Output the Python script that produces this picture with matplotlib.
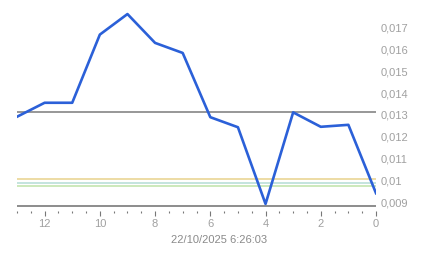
import numpy as np
import matplotlib
matplotlib.use("Agg")
import matplotlib.pyplot as plt
from matplotlib.ticker import MultipleLocator, FixedLocator, FuncFormatter

plt.rcParams['font.family'] = ['Liberation Sans', 'DejaVu Sans']

# hours back from now (x axis runs 13 -> 0)
hours = [13, 12, 11, 10, 9, 8, 7, 6, 5, 4, 3, 2, 1, 0]
price = [0.01292, 0.01356, 0.01356, 0.01668, 0.01762, 0.01630, 0.01584,
         0.01290, 0.01244, 0.00893, 0.01312, 0.01246, 0.01255, 0.00942]
y_ticks = [0.009, 0.010, 0.011, 0.012, 0.013, 0.014, 0.015, 0.016, 0.017]

ref_level = 0.01312      # dark gray reference line
floor_level = 0.00884    # bottom base line
band_levels = [0.01009, 0.00990, 0.00977]
band_colors = ['#e8d28c', '#b4ddd4', '#bfe3a8']
timestamp = "22/10/2025 6:26:03"

fig = plt.figure(figsize=(4.43, 2.58), dpi=100)
ax = fig.add_axes([17 / 443, 47 / 258, 359 / 443, 206 / 258])

for lvl, c in zip(band_levels, band_colors):
    ax.axhline(lvl, color=c, lw=1.1, zorder=1)
ax.axhline(ref_level, color='#7a7a7a', lw=1.1, zorder=2)
ax.axhline(floor_level, color='#6e6e6e', lw=1.1, zorder=2)
ax.plot(hours, price, color='#2b60d8', lw=1.9, zorder=3)

ax.set_xlim(13, 0)
ax.set_ylim(0.0086064, 0.0180343)

for s in ax.spines.values():
    s.set_visible(False)

ax.xaxis.set_major_locator(MultipleLocator(2))
ax.xaxis.set_minor_locator(MultipleLocator(0.5))
ax.tick_params(axis='x', which='major', length=3.5, width=0.8, color='#777777',
               labelcolor='#a0a0a0', labelsize=8, pad=2)
ax.tick_params(axis='x', which='minor', length=1.5, width=0.8, color='#777777')

ax.yaxis.tick_right()
ax.yaxis.set_major_locator(FixedLocator(y_ticks))
ax.yaxis.set_major_formatter(FuncFormatter(
    lambda v, p: f"{v:.3f}".rstrip('0').replace('.', ',')))
ax.tick_params(axis='y', length=0, pad=3, labelcolor='#a0a0a0', labelsize=8)

fig.text(219.5 / 443, 1 - 240 / 258, timestamp, ha='center', va='center',
         color='#8a8a8a', fontsize=8)

fig.savefig("out.png", dpi=100)
